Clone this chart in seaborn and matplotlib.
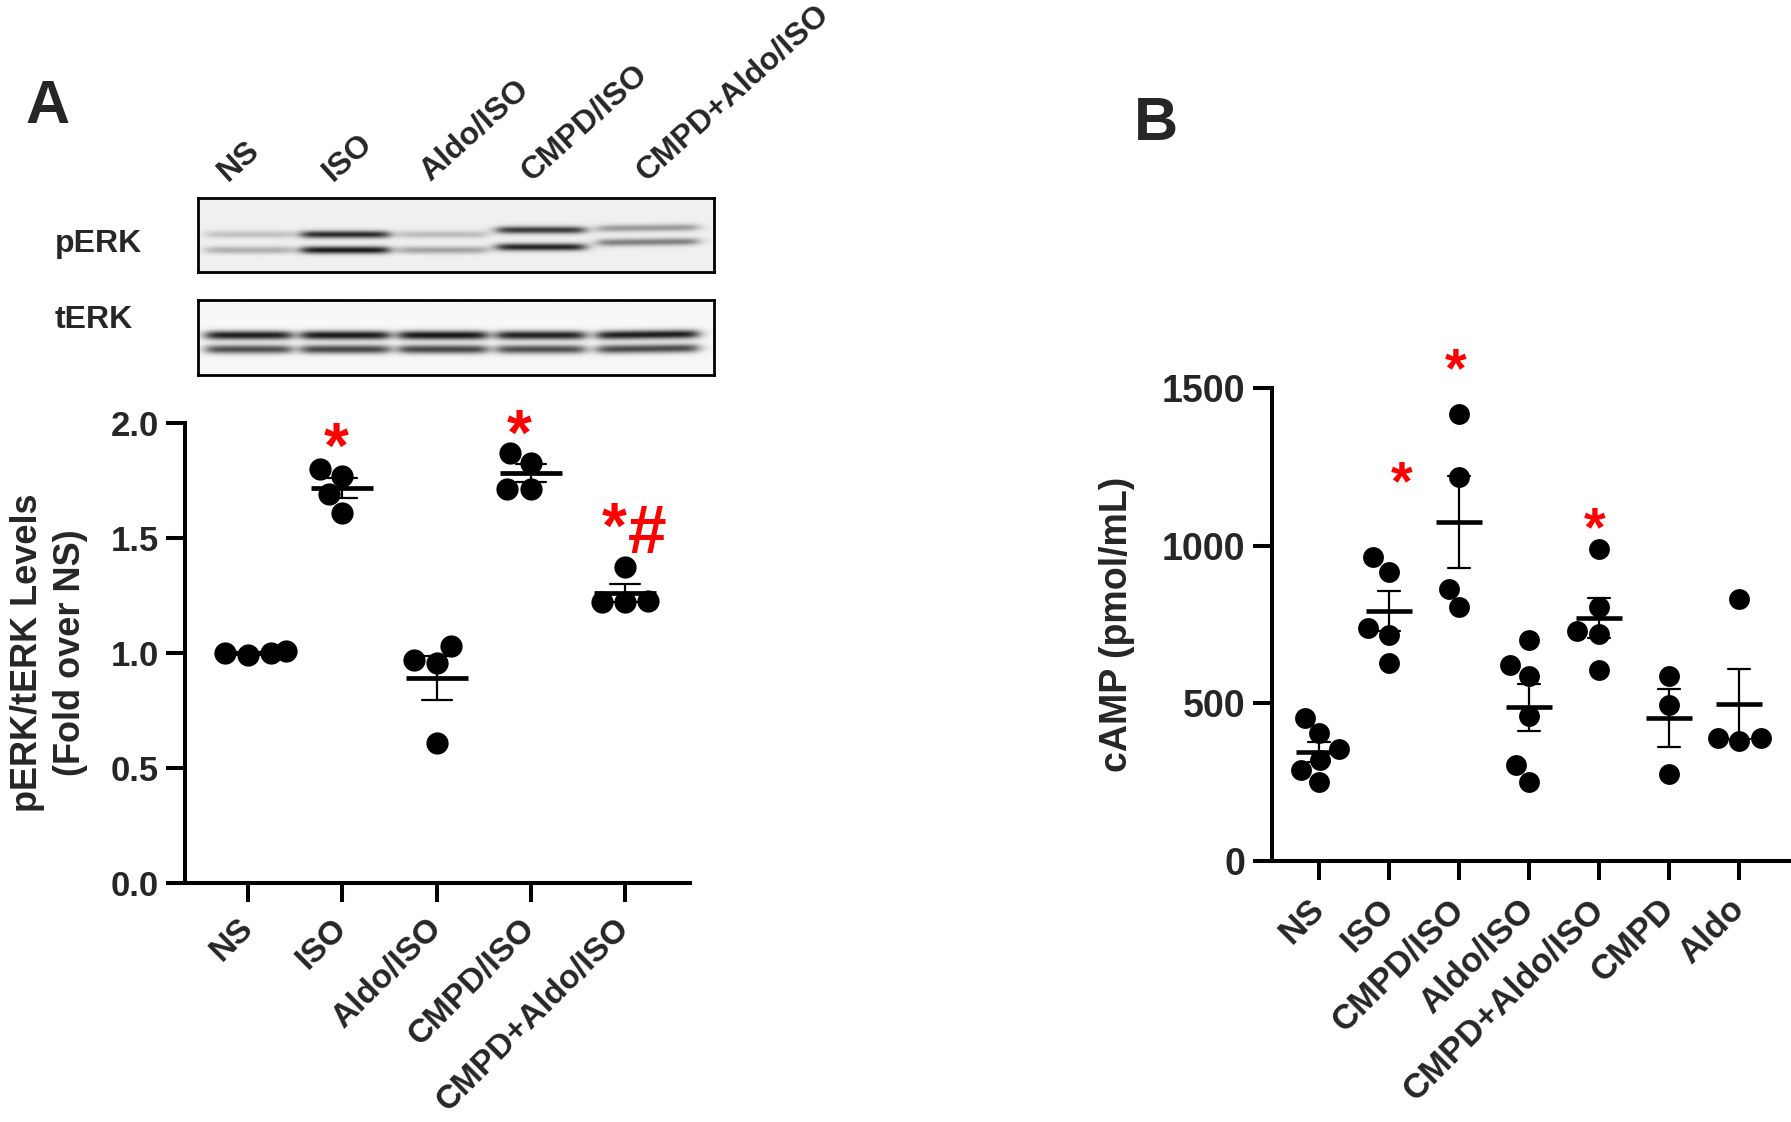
import numpy as np
import pandas as pd
import seaborn as sns
import matplotlib.pyplot as plt

# ---- panel A: pERK/tERK levels, fold over NS ----
groups_a = ["NS", "ISO", "Aldo/ISO", "CMPD/ISO", "CMPD+Aldo/ISO"]
ns_a = [0.99, 1.01, 1.00, 1.00]
iso_a = [1.77, 1.80, 1.69, 1.61]
aldo_iso_a = [1.03, 0.955, 0.97, 0.61]
cmpd_iso_a = [1.825, 1.87, 1.715, 1.715]
cmpd_aldo_iso_a = [1.375, 1.22, 1.225, 1.22]

star_groups_a = ["ISO", "CMPD/ISO", "CMPD+Aldo/ISO"]
star_y_a = [1.955, 2.013, 1.607]
hash_group_a = "CMPD+Aldo/ISO"
hash_y_a = 1.542

# ---- western blot band intensities (0 = none, 1 = dark) ----
blot_lanes = ["NS", "ISO", "Aldo/ISO", "CMPD/ISO", "CMPD+Aldo/ISO"]
perk_upper = [0.20, 0.85, 0.22, 0.78, 0.36]
perk_lower = [0.28, 0.92, 0.33, 0.88, 0.48]
terk_upper = [0.93, 0.95, 0.97, 0.92, 0.94]
terk_lower = [0.72, 0.76, 0.76, 0.72, 0.74]

# ---- panel B: cAMP (pmol/mL) ----
groups_b = ["NS", "ISO", "CMPD/ISO", "Aldo/ISO", "CMPD+Aldo/ISO", "CMPD", "Aldo"]
ns_b = [405, 455, 320, 355, 290, 252]
iso_b = [918, 964, 718, 739, 629]
cmpd_iso_b = [1417, 1217, 806, 864]
aldo_iso_b = [702, 621, 587, 459, 304, 252]
cmpd_aldo_iso_b = [991, 806, 721, 730, 605]
cmpd_b = [587, 495, 276]
aldo_b = [830, 380, 390, 390]

star_groups_b = ["ISO", "CMPD/ISO", "CMPD+Aldo/ISO"]
star_y_b = [1244, 1600, 1098]


def long_form(groups, values):
    rows = []
    for g, vals in zip(groups, values):
        for v in vals:
            rows.append({"group": g, "value": v})
    return pd.DataFrame(rows)


df_a = long_form(groups_a, [ns_a, iso_a, aldo_iso_a, cmpd_iso_a, cmpd_aldo_iso_a])
df_b = long_form(groups_b, [ns_b, iso_b, cmpd_iso_b, aldo_iso_b,
                            cmpd_aldo_iso_b, cmpd_b, aldo_b])

sns.set_theme(style="ticks")
plt.rcParams["font.family"] = ["Liberation Sans", "DejaVu Sans"]
plt.rcParams["font.weight"] = "bold"
plt.rcParams["axes.labelweight"] = "bold"

fig = plt.figure(figsize=(17.91, 11.22), dpi=100)
fig.patch.set_facecolor("white")


def dot_plot(ax, df, order, dot_size, mean_w, mean_lw, capsize, xsize, xpad):
    sns.swarmplot(data=df, x="group", y="value", order=order, color="black",
                  size=dot_size, ax=ax, zorder=2, warn_thresh=1, linewidth=0)
    sns.pointplot(data=df, x="group", y="value", order=order, errorbar="se",
                  color="black", linestyle="none", marker="_",
                  markersize=mean_w, markeredgewidth=mean_lw, capsize=capsize,
                  err_kws={"linewidth": 1.6}, ax=ax, zorder=3)
    ax.set_xlabel("")
    for s in ["left", "bottom"]:
        ax.spines[s].set_linewidth(2.9)
        ax.spines[s].set_color("black")
    sns.despine(ax=ax)
    ax.tick_params(axis="both", length=14, width=2.9, color="black",
                   direction="out")
    ax.tick_params(axis="x", labelsize=xsize, pad=xpad, labelrotation=45)
    for lab in ax.get_xticklabels():
        lab.set_ha("right")
        lab.set_va("center")
        lab.set_rotation_mode("anchor")
        lab.set_fontweight("bold")


def star(ax, x, y, text, size, color="red", center=0.545):
    ax.annotate(text, xy=(x, y), xytext=(0, -center * size),
                textcoords="offset points", ha="center", va="baseline",
                fontsize=size, color=color, fontweight="bold",
                annotation_clip=False)


# ---------------- panel A graph ----------------
ax_a = fig.add_axes([0.1033, 0.2130, 0.282, 0.410])
dot_plot(ax_a, df_a, groups_a, dot_size=16, mean_w=44, mean_lw=3.4,
         capsize=0.32, xsize=24, xpad=15)
ax_a.set_ylim(0, 2.0)
ax_a.set_xlim(-0.67, 4.69)
ax_a.set_yticks([0.0, 0.5, 1.0, 1.5, 2.0])
ax_a.set_yticklabels(["0.0", "0.5", "1.0", "1.5", "2.0"])
ax_a.tick_params(axis="y", labelsize=25, pad=5)
ax_a.set_ylabel("pERK/tERK Levels\n(Fold over NS)", fontsize=26,
                 fontweight="bold", va="center", linespacing=1.3)
ax_a.yaxis.set_label_coords(-0.269, 0.5)

star_dx_a = [-0.07, -0.12, -0.12]
for g, y, dx in zip(star_groups_a, star_y_a, star_dx_a):
    star(ax_a, groups_a.index(g) + dx, y, "*", 46)
star(ax_a, groups_a.index(hash_group_a) + 0.24, hash_y_a, "#", 50, center=0.36)

# ---------------- western blot ----------------
lane_x = [(0.015, 0.18), (0.20, 0.37), (0.39, 0.56), (0.58, 0.75), (0.775, 0.97)]


def blot_image(upper, lower, up_pos, lo_pos, sigma, bg, h=80, w=520):
    yy = np.linspace(0, 1, h)[:, None]
    xx = np.linspace(0, 1, w)[None, :]
    dark = np.zeros((h, w))
    for i, (a, b) in enumerate(zip(upper, lower)):
        x0, x1 = lane_x[i]
        mask = 1 / (1 + np.exp(-(xx - x0) / 0.008)) * 1 / (1 + np.exp((xx - x1) / 0.008))
        tilt = (xx - x0) * 0.08 * (i == 4)
        dark += a * mask * np.exp(-((yy - up_pos[i] + tilt) / sigma) ** 2)
        dark += b * mask * np.exp(-((yy - lo_pos[i] + tilt) / sigma) ** 2)
    return bg - np.clip(dark, 0, 1) * 0.92


perk_img = blot_image(perk_upper, perk_lower,
                      [0.50, 0.50, 0.50, 0.44, 0.42],
                      [0.71, 0.71, 0.71, 0.67, 0.61], 0.05, 0.94)
terk_img = blot_image(terk_upper, terk_lower,
                      [0.47] * 5, [0.66] * 5, 0.06, 0.97)

for img, rect, name, base in [
    (perk_img, [0.1106, 0.7576, 0.2881, 0.066], "pERK", 0.7754),
    (terk_img, [0.1106, 0.6658, 0.2881, 0.0668], "tERK", 0.7077),
]:
    axb = fig.add_axes(rect)
    axb.imshow(img, cmap="gray", vmin=0, vmax=1, aspect="auto",
               interpolation="bilinear")
    axb.set_xticks([])
    axb.set_yticks([])
    for s in axb.spines.values():
        s.set_linewidth(2.0)
        s.set_color("black")
        s.set_visible(True)
    fig.text(0.0307, base, name, fontsize=23, fontweight="bold",
             ha="left", va="baseline")

lane_label_x = [228, 333, 430, 531, 646]
for lab, px in zip(blot_lanes, lane_label_x):
    fig.text(px / 1791, 1 - 182 / 1122, lab, fontsize=23, fontweight="bold",
             rotation=42, rotation_mode="anchor", ha="left", va="baseline")

# ---------------- panel B graph ----------------
ax_b = fig.add_axes([0.7102, 0.2326, 0.2898, 0.4216])
dot_plot(ax_b, df_b, groups_b, dot_size=15, mean_w=33, mean_lw=3.3,
         capsize=0.31, xsize=25, xpad=17)
ax_b.set_ylim(0, 1500)
ax_b.set_xlim(-0.67, 6.74)
ax_b.set_yticks([0, 500, 1000, 1500])
ax_b.tick_params(axis="y", labelsize=27, pad=5)
ax_b.set_ylabel("cAMP (pmol/mL)", fontsize=27, fontweight="bold", va="center")
ax_b.yaxis.set_label_coords(-0.2987, 0.5)

star_dx_b = [0.18, -0.05, -0.06]
for g, y, dx in zip(star_groups_b, star_y_b, star_dx_b):
    star(ax_b, groups_b.index(g) + dx, y, "*", 40)

for lab in ax_a.get_yticklabels() + ax_b.get_yticklabels():
    lab.set_fontweight("bold")

# panel letters
fig.text(0.0145, 1 - 123 / 1122, "A", fontsize=44, fontweight="bold",
         ha="left", va="baseline")
fig.text(1134 / 1791, 1 - 140 / 1122, "B", fontsize=44, fontweight="bold",
         ha="left", va="baseline")

fig.savefig("out.png", dpi=100, facecolor="white")
